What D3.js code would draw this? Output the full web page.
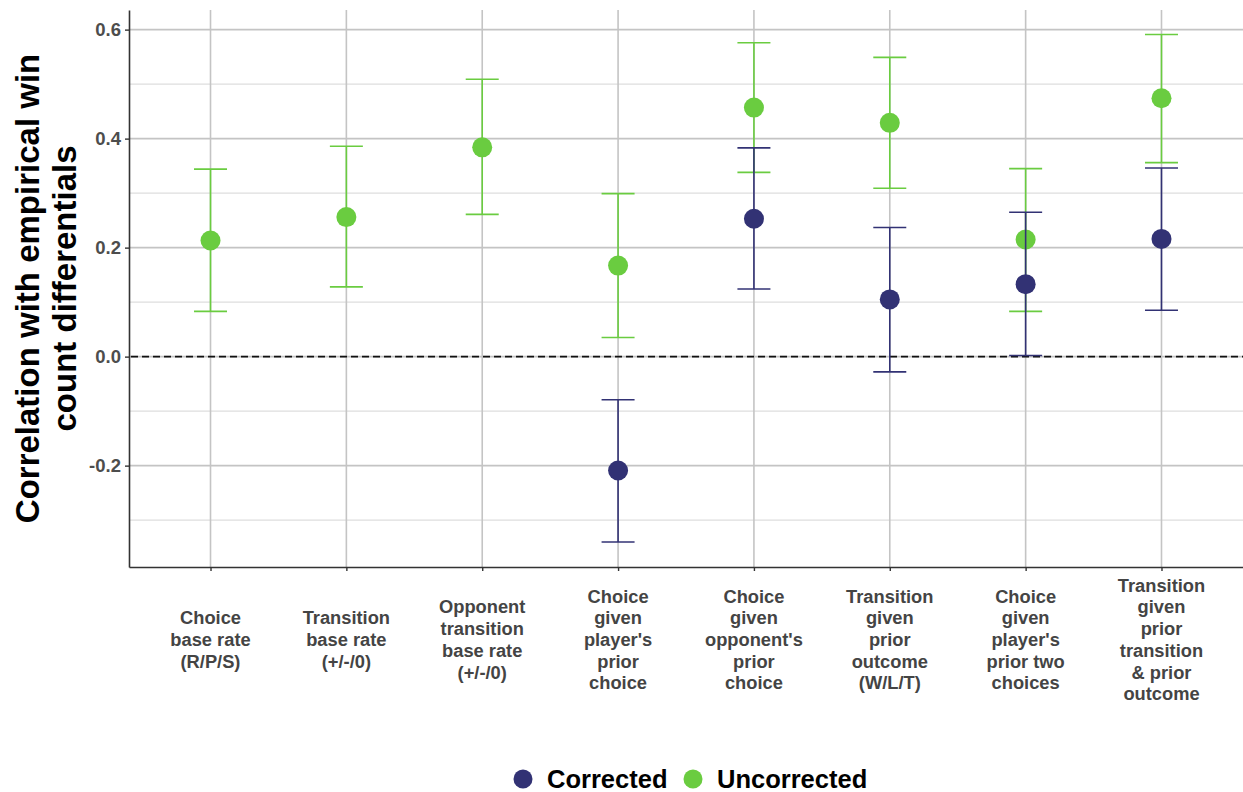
<!DOCTYPE html>
<html>
<head>
<meta charset="utf-8">
<script src="https://cdn.jsdelivr.net/npm/d3@7"></script>
<style>
    body { margin: 0; background: #fff; }
    svg { display: block; font-family: "Liberation Sans", Arial, sans-serif; }
</style>
</head>
<body>
<div id="chart"></div>
<script>
// categories, one label per predictor (lines split with |)
var categories = [
    "Choice|base rate|(R/P/S)",
    "Transition|base rate|(+/-/0)",
    "Opponent|transition|base rate|(+/-/0)",
    "Choice|given|player's|prior|choice",
    "Choice|given|opponent's|prior|choice",
    "Transition|given|prior|outcome|(W/L/T)",
    "Choice|given|player's|prior two|choices",
    "Transition|given|prior|transition|& prior|outcome"
];

var seriesNames = ["Corrected", "Uncorrected"];

// estimate, lower, upper (null where no value)
var uncorrectedEst = [0.213, 0.256, 0.384, 0.167, 0.457, 0.429, 0.215, 0.474];
var uncorrectedLow = [0.083, 0.128, 0.261, 0.035, 0.338, 0.309, 0.083, 0.356];
var uncorrectedHigh = [0.344, 0.386, 0.509, 0.299, 0.576, 0.549, 0.345, 0.591];

var correctedEst = [null, null, null, -0.209, 0.253, 0.105, 0.133, 0.216];
var correctedLow = [null, null, null, -0.340, 0.124, -0.028, 0.002, 0.085];
var correctedHigh = [null, null, null, -0.079, 0.383, 0.237, 0.265, 0.346];

var yTicks = [-0.2, 0.0, 0.2, 0.4, 0.6];
var yTickLabels = ["-0.2", "0.0", "0.2", "0.4", "0.6"];
var yMinorTicks = [-0.3, -0.1, 0.1, 0.3, 0.5];

var colors = { "Corrected": "#323274", "Uncorrected": "#6acc40" };

var width = 1243, height = 792;
var margin = { top: 10, right: 0, bottom: 225, left: 129 };

var svg = d3.select("#chart").append("svg")
    .attr("width", width)
    .attr("height", height);

var x = d3.scalePoint()
    .domain(d3.range(categories.length))
    .range([margin.left, width - margin.right])
    .padding(0.6);

var y = d3.scaleLinear()
    .domain([-0.386, 0.636])
    .range([height - margin.bottom, margin.top]);

var plotLeft = margin.left, plotRight = width - margin.right;
var plotTop = margin.top, plotBottom = height - margin.bottom;

// grid
var grid = svg.append("g");
grid.selectAll(".minor").data(yMinorTicks).enter().append("line")
    .attr("x1", plotLeft).attr("x2", plotRight)
    .attr("y1", function (d) { return y(d); })
    .attr("y2", function (d) { return y(d); })
    .attr("stroke", "#dedede").attr("stroke-width", 1.1);
grid.selectAll(".major").data(yTicks).enter().append("line")
    .attr("x1", plotLeft).attr("x2", plotRight)
    .attr("y1", function (d) { return y(d); })
    .attr("y2", function (d) { return y(d); })
    .attr("stroke", "#c4c4c4").attr("stroke-width", 1.6);
grid.selectAll(".vmajor").data(d3.range(categories.length)).enter().append("line")
    .attr("x1", function (d) { return x(d); })
    .attr("x2", function (d) { return x(d); })
    .attr("y1", plotTop).attr("y2", plotBottom)
    .attr("stroke", "#c4c4c4").attr("stroke-width", 1.6);

// zero reference line
svg.append("line")
    .attr("x1", plotLeft + 2).attr("x2", plotRight)
    .attr("y1", y(0)).attr("y2", y(0))
    .attr("stroke", "#111").attr("stroke-width", 1.6)
    .attr("stroke-dasharray", "7,4");

// axes
var yAxis = svg.append("g")
    .attr("transform", "translate(" + plotLeft + ",0)")
    .call(d3.axisLeft(y).tickValues(yTicks)
        .tickFormat(function (d, i) { return yTickLabels[i]; })
        .tickSize(4).tickSizeOuter(0).tickPadding(4));
var xAxis = svg.append("g")
    .attr("transform", "translate(0," + plotBottom + ")")
    .call(d3.axisBottom(x).tickSize(4).tickSizeOuter(0).tickFormat(""));

[yAxis, xAxis].forEach(function (ax) {
    ax.select(".domain").attr("stroke", "#333").attr("stroke-width", 1.6);
    ax.selectAll(".tick line").attr("stroke", "#333").attr("stroke-width", 1.4);
});
yAxis.selectAll(".tick text")
    .attr("font-size", 18.5).attr("font-weight", "bold")
    .attr("fill", "#4d4d4d")
    .attr("font-family", "Liberation Sans, Arial, sans-serif");

// multi-line x labels, centred vertically around one line
var lineH = 21.7, labelMid = 640;
var xl = svg.append("g");
categories.forEach(function (c, i) {
    var lines = c.split("|");
    var t = xl.append("text")
        .attr("text-anchor", "middle")
        .attr("font-size", 18.3).attr("font-weight", "bold")
        .attr("fill", "#444");
    lines.forEach(function (ln, j) {
        t.append("tspan")
            .attr("x", x(i))
            .attr("y", labelMid + (j - (lines.length - 1) / 2) * lineH + 6)
            .text(ln);
    });
});

// y title
svg.append("text")
    .attr("transform", "translate(39," + ((plotTop + plotBottom) / 2) + ") rotate(-90)")
    .attr("text-anchor", "middle")
    .attr("font-size", 33).attr("font-weight", "bold").attr("fill", "#000")
    .call(function (t) {
        t.append("tspan").attr("x", 0).attr("dy", 0).text("Correlation with empirical win");
        t.append("tspan").attr("x", 0).attr("dy", 37).text("count differentials");
    });

// series: uncorrected first, corrected on top
function series(name, est, lo, hi) {
    return est.map(function (v, i) {
        return { i: i, est: v, lo: lo[i], hi: hi[i], name: name };
    }).filter(function (d) { return d.est !== null; });
}
var layers = [
    series("Uncorrected", uncorrectedEst, uncorrectedLow, uncorrectedHigh),
    series("Corrected", correctedEst, correctedLow, correctedHigh)
];
var capW = 16.5;
layers.forEach(function (data) {
    var g = svg.append("g");
    var col = colors[data[0].name];
    g.selectAll(".stem").data(data).enter().append("line")
        .attr("x1", function (d) { return x(d.i); })
        .attr("x2", function (d) { return x(d.i); })
        .attr("y1", function (d) { return y(d.lo); })
        .attr("y2", function (d) { return y(d.hi); })
        .attr("stroke", col).attr("stroke-width", 1.6);
    ["lo", "hi"].forEach(function (k) {
        g.selectAll(".cap" + k).data(data).enter().append("line")
            .attr("x1", function (d) { return x(d.i) - capW; })
            .attr("x2", function (d) { return x(d.i) + capW; })
            .attr("y1", function (d) { return y(d[k]); })
            .attr("y2", function (d) { return y(d[k]); })
            .attr("stroke", col).attr("stroke-width", 1.6);
    });
    g.selectAll("circle").data(data).enter().append("circle")
        .attr("cx", function (d) { return x(d.i); })
        .attr("cy", function (d) { return y(d.est); })
        .attr("r", 10)
        .attr("fill", col);
});

// legend
var legend = svg.append("g").attr("transform", "translate(0,779)");
var legX = [523, 693];
seriesNames.forEach(function (n, i) {
    legend.append("circle").attr("cx", legX[i]).attr("cy", 0).attr("r", 9.5).attr("fill", colors[n]);
    legend.append("text")
        .attr("x", legX[i] + 24).attr("y", 9)
        .attr("font-size", 25.5).attr("font-weight", "bold").attr("fill", "#000")
        .text(n);
});
</script>
</body>
</html>
